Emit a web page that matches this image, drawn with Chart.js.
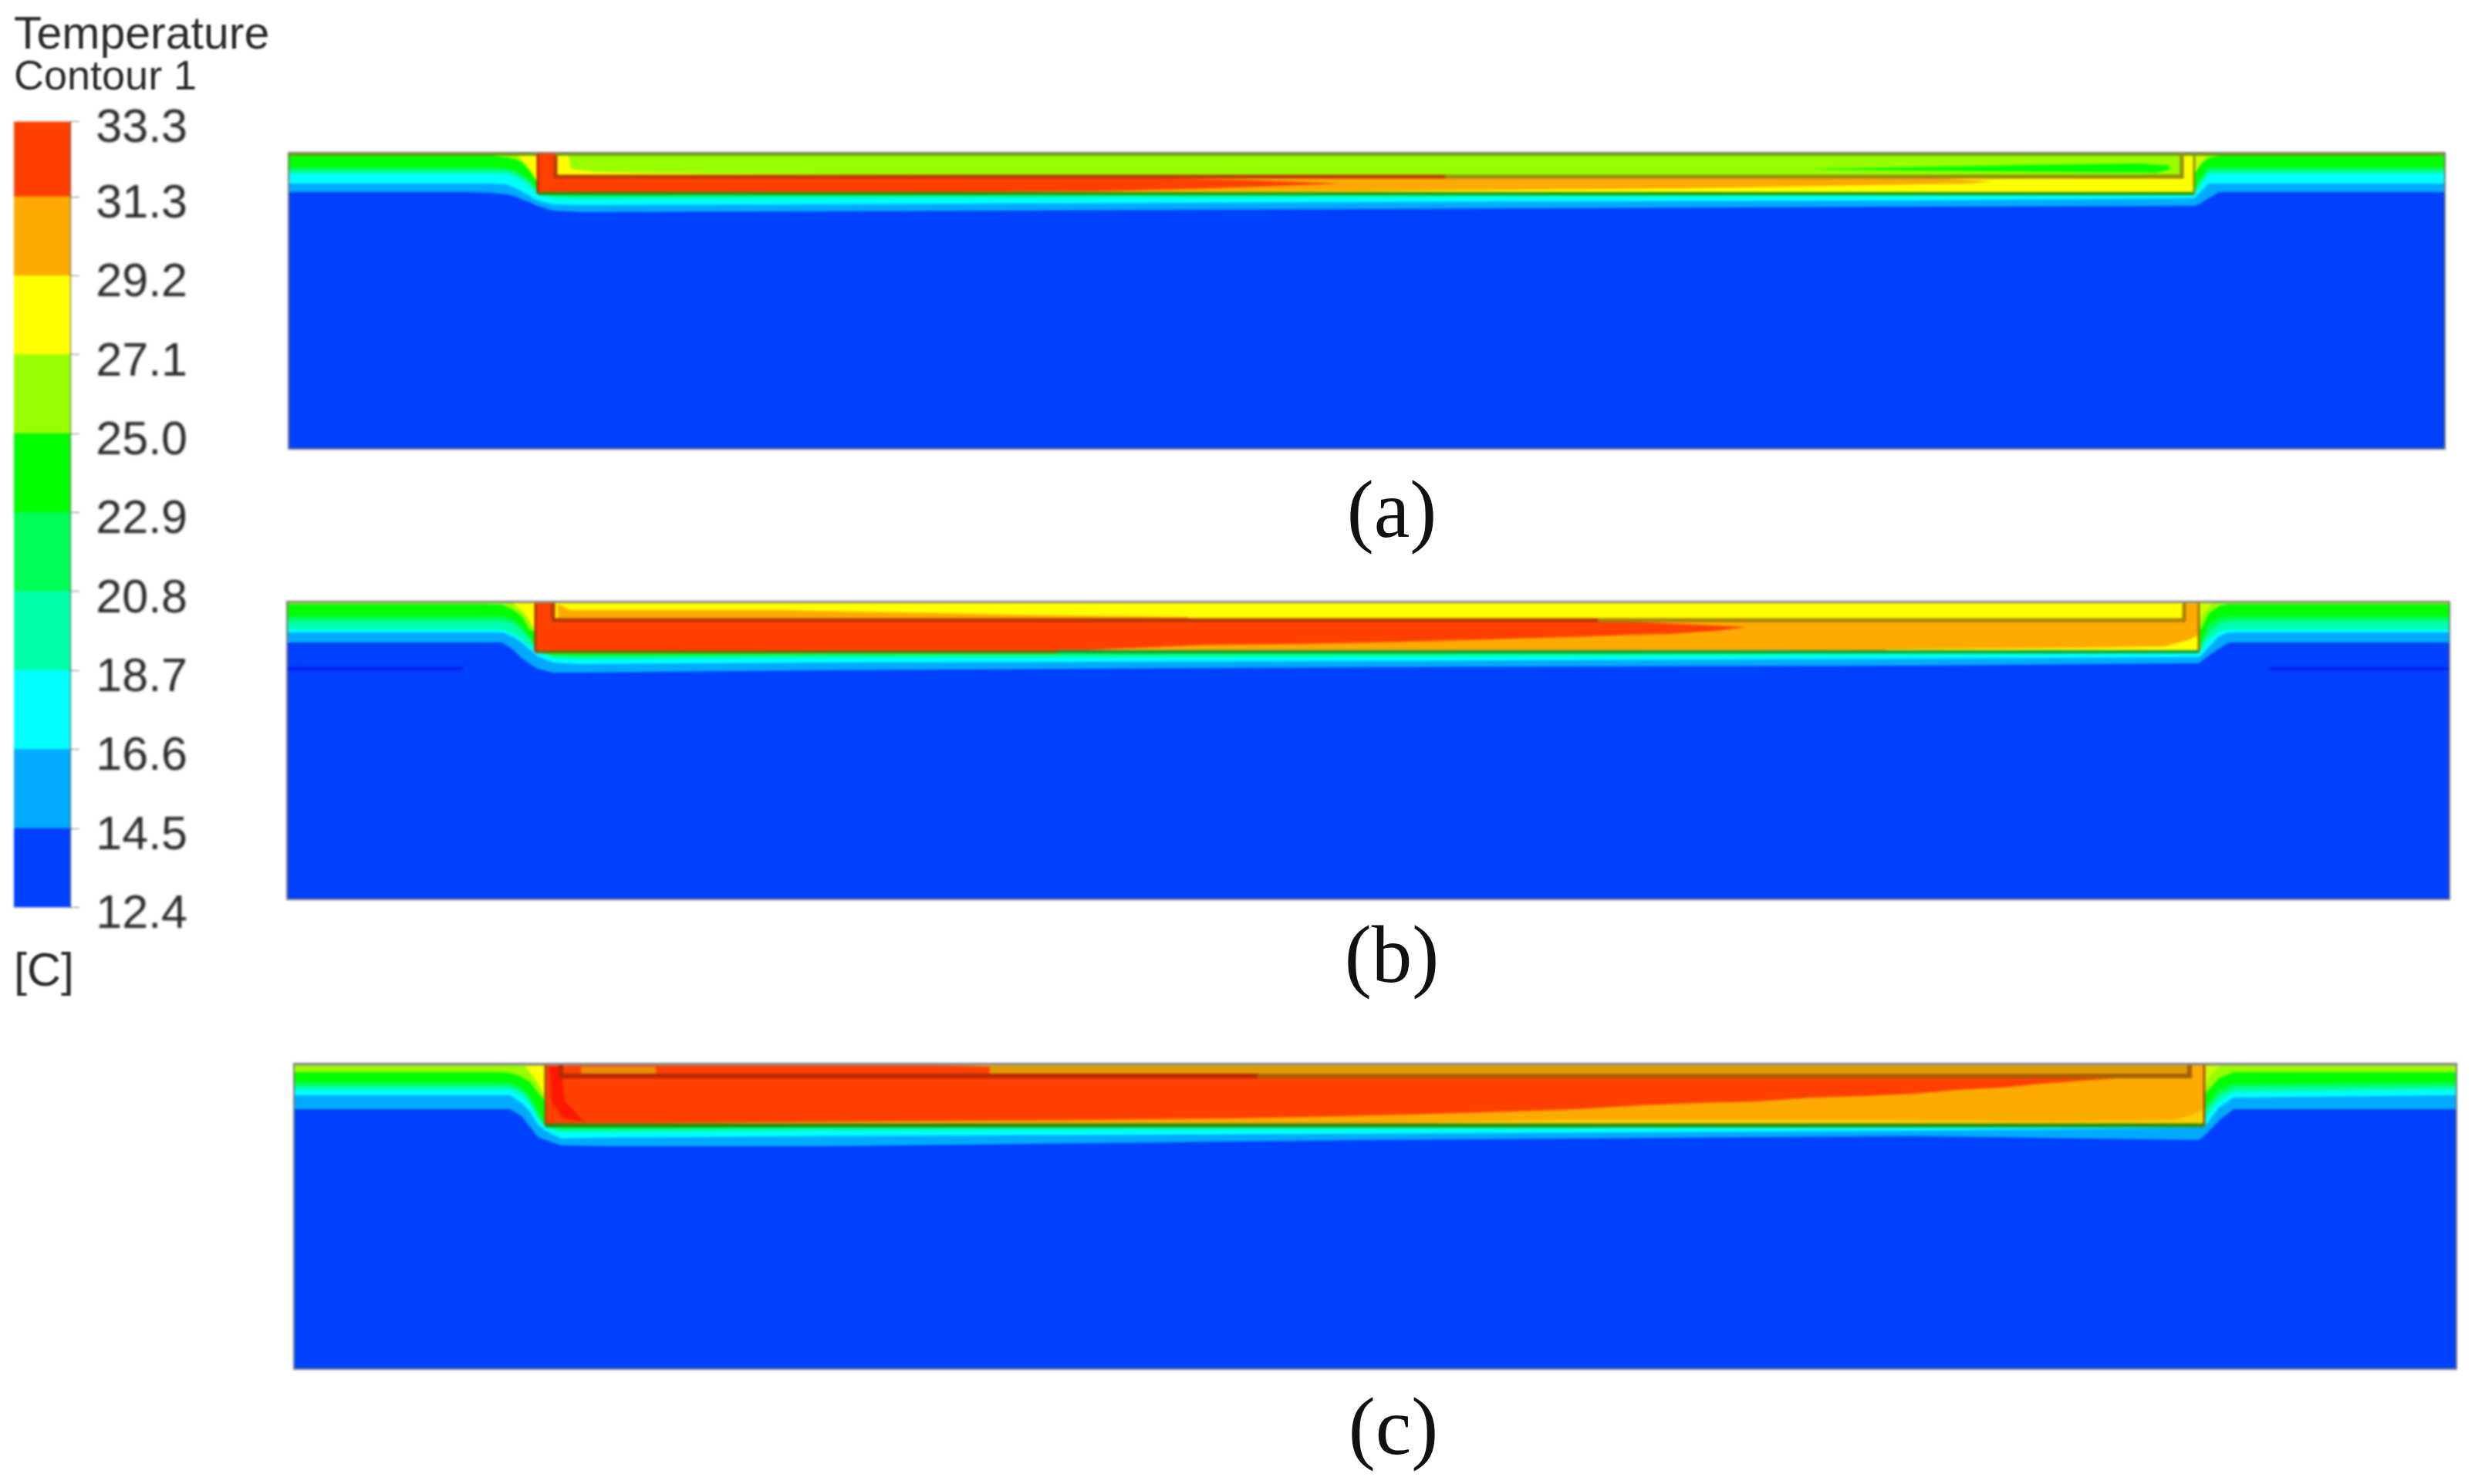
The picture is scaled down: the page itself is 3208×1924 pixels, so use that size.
<!DOCTYPE html>
<html>
<head>
<meta charset="utf-8">
<title>Temperature Contour 1</title>
<script src="https://cdn.jsdelivr.net/npm/chart.js@4"></script>
<style>
    html, body { margin: 0; background: #fff; }
    body { position: relative; width: 3208px; height: 1924px; overflow: hidden; font-family: "Liberation Sans", sans-serif; color: #2b2b2b; }
    canvas { position: absolute; filter: blur(1.5px); }
    .txt { position: absolute; white-space: nowrap; line-height: 1; filter: blur(0.8px); }
    .cap { position: absolute; white-space: nowrap; line-height: 1; font-family: "Liberation Serif", serif; font-size: 105px; color: #111; transform: translate(-50%, -50%); }
</style>
</head>
<body>
<div class="txt" style="left:18px;top:14px;font-size:59px">Temperature</div>
<div class="txt" style="left:18px;top:70px;font-size:54px">Contour 1</div>
<div class="txt" style="left:18px;top:1227px;font-size:61px">[C]</div>
<div class="cap" style="left:1804px;top:660px">(a)</div>
<div class="cap" style="left:1804px;top:1237px">(b)</div>
<div class="cap" style="left:1806px;top:1849px">(c)</div>

<canvas id="barra" width="225" height="1098" style="left:18px;top:118px"></canvas>
<canvas id="panelA" width="2797" height="386" style="left:373px;top:197px"></canvas>
<canvas id="panelB" width="2805" height="388" style="left:371px;top:779px"></canvas>
<canvas id="panelC" width="2805" height="398" style="left:380px;top:1378px"></canvas>

<script>
// Colour bar
const barTicks = [12.4, 14.5, 16.6, 18.7, 20.8, 22.9, 25.0, 27.1, 29.2, 31.3, 33.3];
const barColors = ['#0040ff', '#00aaff', '#00ffff', '#00ffaa', '#00ff55', '#00ff00', '#99ff00', '#ffff00', '#ffaa00', '#ff4000'];

// Panel (a): isotherm depth below the top edge, read at the stations in aX
const aWidth = 2797, aHeight = 386;
const aX     = [0, 237, 265, 283, 293, 303, 315, 324, 344, 380, 700, 1400, 2100, 2471, 2477, 2490, 2503, 2797];
const aLb    = [52, 52, 53, 55, 57, 61, 66, 70, 76, 78, 77, 74, 71, 70, 68, 60, 52, 52];
const aCyan  = [41, 41, 41, 42, 46, 51, 58, 63, 68, 69, 68, 65, 63, 60, 54, 41, 41, 41];
const aTeal  = [28, 28, 28, 29, 32, 38, 46, 55, 60, 61, 60, 59, 57, 55, 46, 28, 28, 28];
const aMint  = [24, 24, 24, 25, 27, 32, 40, 52, 57, 58, 57, 56, 55, 54, 40, 24, 24, 24];
const aGreen = [20, 20, 20, 21, 23, 28, 38, 50, 55, 56, 56, 55, 54, 52, 36, 20, 20, 20];
const aLime  = [5, 5, 5, 7, 9, 13, 26, 40, 40, 40, 40, 40, 40, 30, 16, 8, 5, 5];
const aWedgeX = [296, 324, 324, 312], aWedgeY = [3, 3, 40, 20];
const aWedge2X = [2471, 2490, 2478, 2471], aWedge2Y = [3, 3, 18, 30];
const aPlateX = [324, 2471, 2471, 324], aPlateY = [0, 0, 54, 54];
const aOrangeX = [700, 2000, 2130, 2210, 2178, 2000, 1827, 1400, 1000, 700];
const aOrangeY = [33, 33, 34, 38, 41, 44, 47, 51, 52, 52];
const aRedX = [324, 347, 347, 1130, 1255, 1314, 1365, 1314, 1255, 1167, 1050, 700, 324];
const aRedY = [2, 2, 33, 34, 37, 39, 41, 43, 45, 48, 51, 53, 54];
const aGasX = [347, 2455, 2455, 347], aGasY = [5, 5, 31, 31];
const aGasWarmX = [347, 364, 367, 400, 540, 1050, 347], aGasWarmY = [5, 5, 22, 26, 28, 31, 31];
const aStreakX = [1967, 2100, 2250, 2400, 2439, 2439, 2420, 2200, 2000];
const aStreakY = [22, 20, 17, 15, 18, 23, 27, 25, 23];

// Panel (b)
const bWidth = 2805, bHeight = 388;
const bX     = [0, 250, 280, 295, 305, 316, 326, 346, 380, 700, 1400, 2100, 2479, 2483, 2492, 2505, 2518, 2805];
const bLb    = [54, 54, 54, 64, 74, 82, 88, 93, 93, 90, 86, 84, 81, 78, 71, 62, 54, 54];
const bCyan  = [41, 41, 41, 47, 54, 63, 72, 80, 82, 80, 78, 75, 73, 70, 60, 46, 41, 41];
const bTeal  = [37, 37, 37, 43, 50, 59, 66, 74, 76, 74, 73, 70, 68, 62, 50, 40, 37, 37];
const bMint  = [26, 26, 26, 30, 38, 50, 66, 72, 73, 71, 70, 68, 67, 56, 40, 30, 26, 26];
const bGreen = [20, 20, 20, 24, 33, 46, 66, 69, 70, 68, 67, 66, 66, 52, 30, 22, 20, 20];
const bLime  = [4, 4, 5, 12, 20, 38, 40, 40, 40, 40, 40, 40, 40, 34, 16, 7, 4, 4];
const bWedgeX = [294, 323, 323, 312], bWedgeY = [3, 3, 40, 20];
const bWedge2X = [2479, 2497, 2484, 2479], bWedge2Y = [3, 3, 18, 34];
const bPlateX = [323, 2479, 2479, 323], bPlateY = [0, 0, 66, 66];
const bRedX = [323, 346, 346, 1741, 1829, 1893, 1851, 1789, 1741, 1690, 1624, 1558, 1485, 1404, 1301, 1191, 1033, 323];
const bRedY = [3, 3, 27, 27, 31, 34, 39, 43, 44, 46, 48, 50, 52, 54, 56, 57, 64, 65];
const bGasX = [346, 2460, 2460, 346], bGasY = [3, 3, 24, 24];
const bGasWarmX = [352, 368, 640, 950, 1170, 1170, 352], bGasWarmY = [4, 12, 12, 18, 21, 24, 24];
const bStripX = [2074, 2323, 2435, 2467, 2479, 2479, 2074], bStripY = [63, 61, 59, 50, 44, 66, 66];
const bLineLeftX = [0, 229], bLineRightX = [2569, 2805], bLineY = [88, 88];

// Panel (c)
const cWidth = 2805, cHeight = 398;
const cX     = [0, 266, 281, 296, 306, 317, 327, 347, 400, 700, 1400, 2100, 2470, 2480, 2496, 2515, 2805];
const cLb    = [60, 60, 60, 69, 82, 96, 100, 107, 108, 108, 100, 95, 100, 92, 75, 60, 60];
const cCyan  = [42, 42, 42, 52, 62, 80, 88, 98, 97, 95, 92, 88, 84, 80, 58, 45, 42];
const cTeal  = [35, 35, 35, 42, 52, 72, 84, 90, 90, 88, 86, 84, 82, 68, 50, 38, 35];
const cMint  = [30, 30, 30, 36, 46, 66, 82, 86, 86, 84, 83, 82, 81, 60, 42, 32, 30];
const cGreen = [25, 25, 26, 32, 42, 62, 82, 84, 84, 83, 82, 82, 81, 55, 34, 27, 25];
const cLime  = [12, 12, 13, 18, 24, 38, 50, 50, 50, 50, 50, 50, 50, 38, 20, 12, 12];
const cWedgeX = [300, 327, 327, 316], cWedgeY = [4, 4, 44, 24];
const cWedge2X = [2477, 2497, 2484, 2477], cWedge2Y = [4, 4, 16, 36];
const cPlateX = [327, 2477, 2477, 327], cPlateY = [0, 0, 80, 80];
const cRedX = [327, 830, 903, 903, 2362, 2305, 2266, 2215, 2158, 2100, 2037, 1967, 1896, 1820, 1747, 1666, 1578, 1479, 1366, 1219, 1043, 327];
const cRedY = [3, 3, 5, 20, 20, 24, 27, 32, 35, 40, 43, 45, 50, 52, 55, 60, 63, 66, 69, 72, 74, 79];
const cBoxGoldX = [903, 2458, 2458, 903], cBoxGoldY = [4, 4, 14, 14];
const cPatchX = [373, 470, 470, 373], cPatchY = [5, 5, 14, 14];
const cBrightX = [332, 347, 352, 378, 350, 335], cBrightY = [5, 5, 50, 76, 72, 50];
const cStripX = [1483, 1650, 2050, 2280, 2440, 2460, 2477, 2477, 1483], cStripY = [77, 74, 74, 76, 74, 68, 60, 80, 80];

const BLUE = barColors[0], SKY = barColors[1], CYAN = barColors[2], TEAL = barColors[3], MINT = barColors[4];
const GREEN = barColors[5], LIME = barColors[6], YELLOW = barColors[7], ORANGE = barColors[8], RED = barColors[9];

// filled region
function poly(xs, ys, color) {
    return {
        data: xs.map((x, i) => ({ x: x, y: ys[i] })),
        backgroundColor: color,
        borderWidth: 0,
        pointRadius: 0,
        tension: 0,
        fill: 'shape'
    };
}

// plain line
function stroke(xs, ys, color, width) {
    return {
        data: xs.map((x, i) => ({ x: x, y: ys[i] })),
        borderColor: color,
        borderWidth: width,
        pointRadius: 0,
        tension: 0,
        fill: false
    };
}

// one isotherm, closed along the top edge
function band(xs, ys, color) {
    return poly(xs.concat([xs[xs.length - 1], 0]), ys.concat([0, 0]), color);
}

function ground(w, h, xs, rows) {
    return [
        poly([0, w, w, 0], [0, 0, h, h], BLUE),
        band(xs, rows[0], SKY),
        band(xs, rows[1], CYAN),
        band(xs, rows[2], TEAL),
        band(xs, rows[3], MINT),
        band(xs, rows[4], GREEN),
        band(xs, rows[5], LIME)
    ];
}

function drawPanel(id, w, h, layers) {
    new Chart(document.getElementById(id), {
        type: 'line',
        data: { datasets: layers.slice().reverse() },
        options: {
            responsive: false,
            devicePixelRatio: 1,
            animation: false,
            plugins: { legend: { display: false }, tooltip: { enabled: false } },
            scales: {
                x: { type: 'linear', display: false, min: 0, max: w },
                y: { type: 'linear', display: false, min: 0, max: h, reverse: true }
            }
        }
    });
}

// Panel (a)
drawPanel('panelA', aWidth, aHeight, ground(aWidth, aHeight, aX, [aLb, aCyan, aTeal, aMint, aGreen, aLime]).concat([
    poly(aWedgeX, aWedgeY, YELLOW),
    poly(aWedge2X, aWedge2Y, '#ccff00'),
    poly(aPlateX, aPlateY, YELLOW),
    poly(aOrangeX, aOrangeY, ORANGE),
    poly(aGasX, aGasY, LIME),
    poly(aRedX, aRedY, RED),
    poly(aGasWarmX, aGasWarmY, YELLOW),
    poly(aStreakX, aStreakY, GREEN),
    stroke([0, 324], [2, 2], '#6fa500', 6),
    stroke([347, aWidth], [2, 2], '#6fa500', 6),
    stroke([347, 347, 1500], [5, 32, 32], '#b83a00', 5),
    stroke([1500, 2455, 2455], [32, 32, 2], '#8f8a10', 5),
    stroke([324, 2471], [54, 54], '#1f9a10', 4),
    stroke([324, 324], [3, 54], '#c02000', 3),
    stroke([2471, 2471], [3, 54], '#8a8a10', 3),
    stroke([0, aWidth, aWidth, 0, 0], [0, 0, aHeight, aHeight, 0], '#777777', 4)
]));

// Panel (b)
drawPanel('panelB', bWidth, bHeight, ground(bWidth, bHeight, bX, [bLb, bCyan, bTeal, bMint, bGreen, bLime]).concat([
    stroke(bLineLeftX, bLineY, '#0020f0', 4),
    stroke(bLineRightX, bLineY, '#0020f0', 4),
    poly(bWedgeX, bWedgeY, YELLOW),
    poly(bWedge2X, bWedge2Y, '#ccff00'),
    poly(bPlateX, bPlateY, ORANGE),
    poly(bGasX, bGasY, YELLOW),
    poly(bGasWarmX, bGasWarmY, ORANGE),
    poly(bRedX, bRedY, RED),
    poly(bStripX, bStripY, YELLOW),
    stroke([0, bWidth], [1, 1], '#a8a880', 4),
    stroke([346, 346, 1700], [3, 25, 25], '#b83400', 5),
    stroke([1700, 2460, 2460], [25, 25, 3], '#a88400', 5),
    stroke([323, 1000], [66, 66], '#7a6a00', 4),
    stroke([1000, 2479], [66, 66], '#10a040', 4),
    stroke([323, 323], [3, 66], '#b03000', 3),
    stroke([2479, 2479], [3, 66], '#a07000', 3),
    stroke([0, bWidth, bWidth, 0, 0], [0, 0, bHeight, bHeight, 0], '#777777', 4)
]));

// Panel (c)
drawPanel('panelC', cWidth, cHeight, ground(cWidth, cHeight, cX, [cLb, cCyan, cTeal, cMint, cGreen, cLime]).concat([
    poly(cWedgeX, cWedgeY, YELLOW),
    poly(cWedge2X, cWedge2Y, '#ccff00'),
    poly(cPlateX, cPlateY, ORANGE),
    poly(cRedX, cRedY, RED),
    poly(cBoxGoldX, cBoxGoldY, '#e09a00'),
    poly(cPatchX, cPatchY, '#e89000'),
    poly(cBrightX, cBrightY, '#ff1800'),
    poly(cStripX, cStripY, '#ffd000'),
    stroke([0, cWidth], [1, 1], '#9a9a9a', 5),
    stroke([347, 347, 1250], [3, 17, 17], '#b82800', 6),
    stroke([1250, 2458, 2458], [17, 17, 3], '#a86000', 6),
    stroke([327, 2477], [81, 81], '#2a8a10', 5),
    stroke([327, 327], [3, 81], '#a05000', 3),
    stroke([2477, 2477], [3, 81], '#a05000', 3),
    stroke([0, cWidth, cWidth, 0, 0], [0, 0, cHeight, cHeight, 0], '#777777', 4)
]));

// Colour bar, one floating bar per interval
new Chart(document.getElementById('barra'), {
    type: 'bar',
    data: {
        labels: [''],
        datasets: barColors.map((color, i) => ({
            data: [[barTicks[i], barTicks[i + 1]]],
            backgroundColor: color,
            barPercentage: 1,
            categoryPercentage: 1
        }))
    },
    options: {
        responsive: false,
        devicePixelRatio: 1,
        animation: false,
        layout: { padding: { top: 30, bottom: 30 } },
        plugins: { legend: { display: false }, tooltip: { enabled: false } },
        scales: {
            x: { display: false, stacked: true },
            y: {
                position: 'right',
                min: 12.4,
                max: 33.3,
                afterBuildTicks: function (axis) {
                    axis.ticks = barTicks.map(v => ({ value: v }));
                },
                afterFit: function (axis) {
                    axis.width = 152;
                },
                ticks: {
                    autoSkip: false,
                    crossAlign: 'far',
                    labelOffset: 10,
                    color: '#2b2b2b',
                    font: { family: '"Liberation Sans"', size: 61 },
                    callback: v => Number(v).toFixed(1)
                },
                grid: { drawOnChartArea: false, tickLength: 12, color: '#777' },
                border: { color: '#555', width: 2 }
            }
        }
    }
});
</script>
</body>
</html>
